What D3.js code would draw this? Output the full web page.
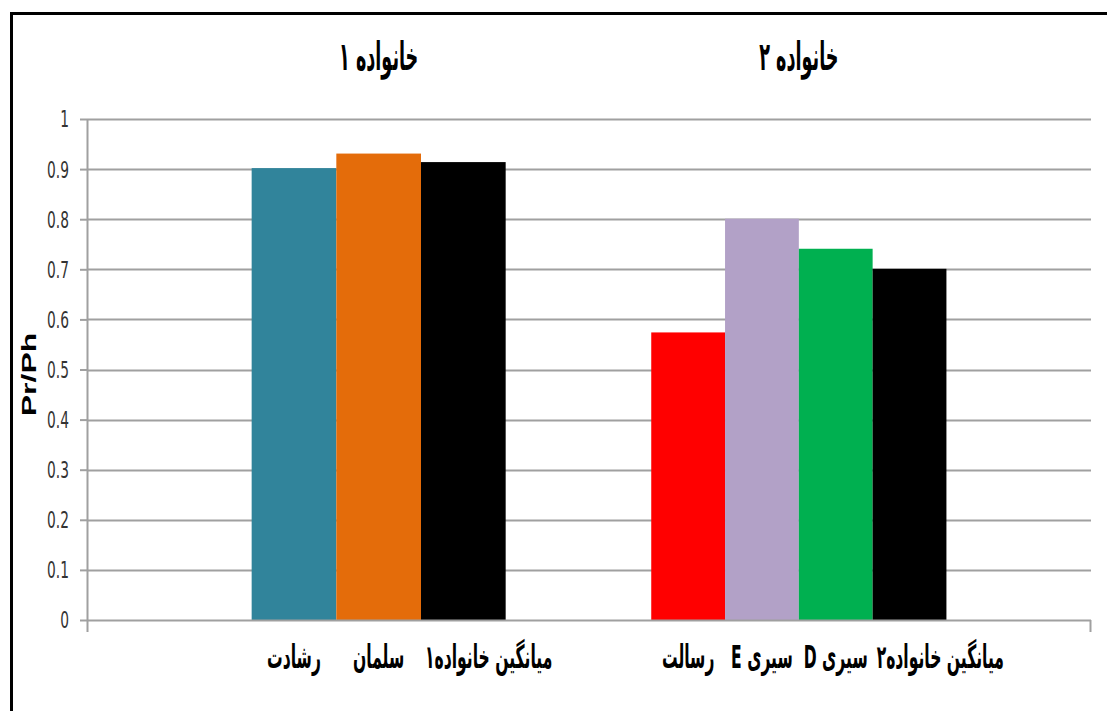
<!DOCTYPE html>
<html>
<head>
<meta charset="utf-8">
<script src="https://cdn.jsdelivr.net/npm/d3@7"></script>
<style>
  body { margin: 0; background: #fff; }
  svg { display: block; }
  .tick text { font-family: "Liberation Sans Narrow", "DejaVu Sans Condensed", sans-serif; }
  .fa { font-family: "DejaVu Sans", sans-serif; font-weight: bold; direction: rtl; unicode-bidi: embed; }
</style>
</head>
<body>
<div id="chart"></div>
<script>
'use strict';

// data
var groupTitles = ['خانواده ۱', 'خانواده ۲'];
var group1Labels = ['رشادت', 'سلمان', 'میانگین خانواده۱'];
var group1Values = [0.902, 0.931, 0.914];
var group2Labels = ['رسالت', 'سیری E', 'سیری D', 'میانگین خانواده۲'];
var group2Values = [0.574, 0.801, 0.741, 0.701];
var yTicks = [0, 0.1, 0.2, 0.3, 0.4, 0.5, 0.6, 0.7, 0.8, 0.9, 1];
var yTitle = 'Pr/Ph';

var group1Colors = ['#31849b', '#e46c0a', '#000000'];
var group2Colors = ['#ff0000', '#b2a1c7', '#00b050', '#000000'];

var W = 1107, H = 711;
var plot = { left: 87, right: 1091, top: 119, bottom: 620 };
// where each family's bars sit, as a share of the plot width
var spans = [[0.164, 0.417], [0.562, 0.856]];

var svg = d3.select('#chart').append('svg')
    .attr('width', W)
    .attr('height', H);

// frame
svg.append('rect')
    .attr('x', 11.5).attr('y', 13.5)
    .attr('width', W + 20).attr('height', H + 20)
    .attr('fill', 'none')
    .attr('stroke', '#000')
    .attr('stroke-width', 3);

var y = d3.scaleLinear().domain([0, 1]).range([plot.bottom, plot.top]);
var xs = d3.scaleLinear().domain([0, 1]).range([plot.left, plot.right]);

// gridlines
svg.append('g').selectAll('line')
    .data(yTicks.filter(function (d) { return d > 0; }))
    .enter().append('line')
    .attr('x1', plot.left).attr('x2', plot.right)
    .attr('y1', function (d) { return Math.round(y(d)) + 0.5; })
    .attr('y2', function (d) { return Math.round(y(d)) + 0.5; })
    .attr('stroke', '#a0a0a0')
    .attr('stroke-width', 2);

// y axis
var yAxis = svg.append('g')
    .attr('transform', 'translate(' + plot.left + ',0)')
    .call(d3.axisLeft(y).tickValues(yTicks).tickSize(7)
        .tickFormat(function (d) { return d3.format('')(d); }));
yAxis.select('.domain').remove();
yAxis.selectAll('.tick line').attr('stroke', '#a0a0a0').attr('stroke-width', 2);
yAxis.selectAll('.tick text')
    .attr('fill', '#333')
    .attr('font-size', 17)
    .attr('x', 0)
    .attr('dy', '0.36em')
    .attr('transform', 'translate(-18,0) scale(0.9,1.3)');
yAxis.append('line')
    .attr('x1', 0.5).attr('x2', 0.5)
    .attr('y1', plot.top).attr('y2', plot.bottom + 12)
    .attr('stroke', '#a0a0a0').attr('stroke-width', 2);

var groups = [
    { title: groupTitles[0], labels: group1Labels, values: group1Values, colors: group1Colors },
    { title: groupTitles[1], labels: group2Labels, values: group2Values, colors: group2Colors }
];

groups.forEach(function (g, gi) {
    var x = d3.scaleBand()
        .domain(g.labels)
        .range([xs(spans[gi][0]), xs(spans[gi][1])])
        .padding(0);

    var rows = g.labels.map(function (l, i) { return { label: l, value: g.values[i], color: g.colors[i] }; });

    svg.append('g').selectAll('rect')
        .data(rows)
        .enter().append('rect')
        .attr('x', function (d) { return x(d.label); })
        .attr('y', function (d) { return y(d.value); })
        .attr('width', x.bandwidth())
        .attr('height', function (d) { return y(0) - y(d.value); })
        .attr('fill', function (d) { return d.color; });

    // category labels, pushed right so they never start left of their bar
    svg.append('g').selectAll('text')
        .data(rows)
        .enter().append('text')
        .attr('class', 'fa')
        .attr('font-size', 19)
        .attr('text-anchor', 'middle')
        .text(function (d) { return d.label; })
        .attr('transform', function (d) {
            var w = this.getComputedTextLength() * 0.82;
            var cx = Math.max(x(d.label) + x.bandwidth() / 2, x(d.label) + 4 + w / 2);
            return 'translate(' + cx + ',668) scale(0.82,1.7)';
        });

    // family title
    var range = x.range();
    svg.append('text')
        .attr('class', 'fa')
        .attr('font-size', 22)
        .attr('text-anchor', 'middle')
        .attr('transform', 'translate(' + ((range[0] + range[1]) / 2) + ',70) scale(0.8,1.8)')
        .text(g.title);
});

// x axis line
svg.append('line')
    .attr('x1', plot.left).attr('x2', plot.right)
    .attr('y1', plot.bottom + 0.5).attr('y2', plot.bottom + 0.5)
    .attr('stroke', '#a0a0a0').attr('stroke-width', 2);
svg.append('line')
    .attr('x1', plot.right - 0.5).attr('x2', plot.right - 0.5)
    .attr('y1', plot.bottom).attr('y2', plot.bottom + 12)
    .attr('stroke', '#a0a0a0').attr('stroke-width', 2);

// y title
svg.append('text')
    .attr('transform', 'translate(36,' + y(0.49) + ') scale(1,1.6) rotate(-90)')
    .attr('text-anchor', 'middle')
    .attr('font-family', '"Liberation Sans", Arial, sans-serif')
    .attr('font-weight', 'bold')
    .attr('font-size', 20)
    .text(yTitle);
</script>
</body>
</html>
